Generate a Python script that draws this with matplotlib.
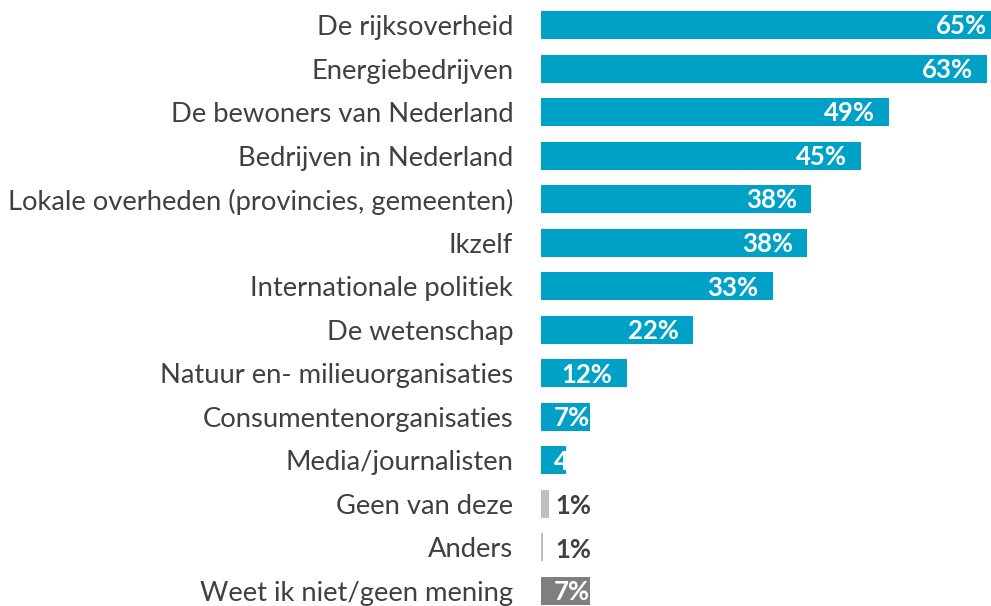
import matplotlib
matplotlib.use("Agg")
import matplotlib.pyplot as plt

# answers, top to bottom
categories = ["De rijksoverheid", "Energiebedrijven", "De bewoners van Nederland",
              "Bedrijven in Nederland", "Lokale overheden (provincies, gemeenten)",
              "Ikzelf", "Internationale politiek", "De wetenschap",
              "Natuur en- milieuorganisaties", "Consumentenorganisaties",
              "Media/journalisten", "Geen van deze", "Anders",
              "Weet ik niet/geen mening"]
# bar lengths (percent)
values = [65, 63, 49.2, 45.2, 38.1, 37.6, 32.7, 21.4, 12.1, 6.9, 3.5, 1.1, 0.3, 6.9]
# the printed labels
pct_labels = ["65%", "63%", "49%", "45%", "38%", "38%", "33%", "22%", "12%",
              "7%", "4%", "1%", "1%", "7%"]

blue = "#00A1C7"
bar_colors = [blue] * 11 + ["#BFBFBF", "#BFBFBF", "#7F7F7F"]
txt_colors = ["white"] * 11 + ["#404040", "#404040", "white"]
dark = "#404040"

plt.rcParams["font.family"] = ["Lato", "DejaVu Sans"]

fig = plt.figure(figsize=(9.91, 6.06), dpi=100)
# axes left edge at the bar start (x=541px), right edge is the image edge
ax = fig.add_axes([541 / 991, 0, 450 / 991, 1])

y = list(range(len(categories)))
ax.barh(y, values, height=0.645, color=bar_colors, edgecolor="none")

px = 7.08  # pixels per percent
ax.set_xlim(0, 450 / px)
ax.set_ylim(13 + 15 / 43.5, -25 / 43.5)

for i, (v, lab) in enumerate(zip(values, pct_labels)):
    if txt_colors[i] == "white":
        xr = max(v - 14 / px, 49 / px)
        ax.text(xr, i + 0.03, lab, ha="right", va="center", color="white",
                fontsize=18.5, fontweight="bold")
    else:
        ax.text(14 / px, i + 0.05, lab, ha="left", va="center", color=dark,
                fontsize=18.5, fontweight="bold")

ax.set_yticks(y)
ax.set_yticklabels(categories, fontsize=19.7, color=dark)
ax.tick_params(axis="y", length=0, pad=20)
ax.set_xticks([])
for s in ax.spines.values():
    s.set_visible(False)

fig.savefig("out.png", dpi=100)
